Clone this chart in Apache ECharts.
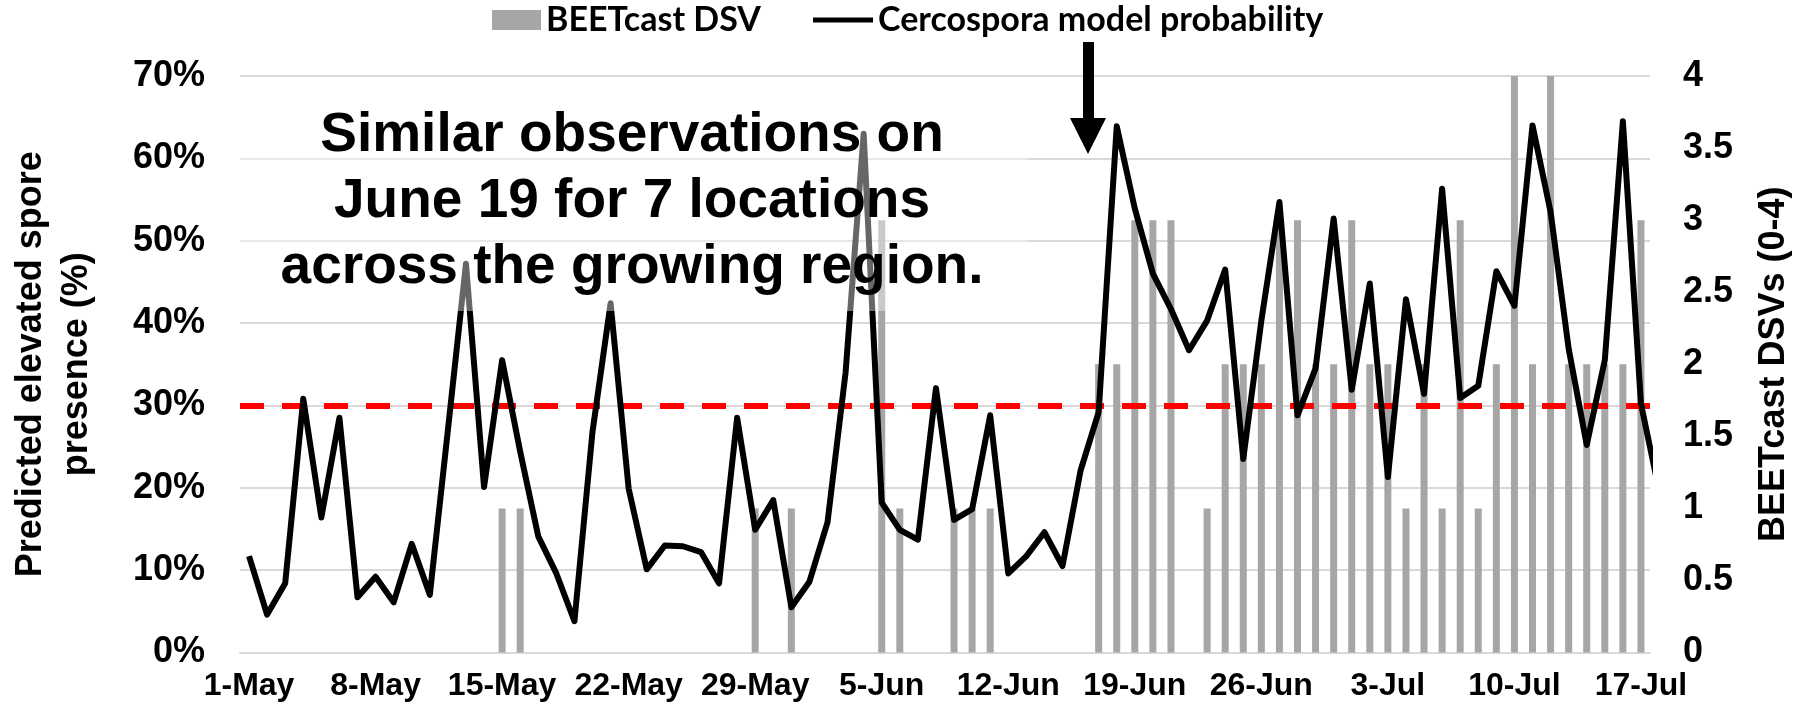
<!DOCTYPE html>
<html>
<head>
<meta charset="utf-8">
<script src="https://cdn.jsdelivr.net/npm/echarts@6/dist/echarts.min.js"></script>
<style>
  html, body { margin: 0; padding: 0; background: #fff; }
  #chart { width: 1806px; height: 710px; }
</style>
</head>
<body>
<div id="chart"></div>
<script>
// one category per day, 1-May .. 17-Jul
const months = [["May", 31], ["Jun", 30], ["Jul", 17]];
const days = [];
months.forEach(([m, n]) => {
  for (let d = 1; d <= n; d++) days.push(d + "-" + m);
});

// Cercospora model probability (%).
// last value is 18-Jul, only its first bit shows at the right edge
const probability = [
  11.7, 4.6, 8.4, 30.8, 16.4, 28.5, 6.7, 9.2, 6.1, 13.2,
  7.0, 27.0, 47.2, 20.1, 35.5, 24.4, 14.1, 9.6, 3.8, 26.8,
  42.4, 19.9, 10.1, 13.0, 12.9, 12.2, 8.4, 28.5, 14.9, 18.5,
  5.5, 8.6, 15.8, 34.0, 63.0, 18.2, 14.9, 13.7, 32.1, 16.1,
  17.4, 28.8, 9.6, 11.7, 14.6, 10.5, 22.1, 29.2, 63.9, 53.9,
  46.0, 41.7, 36.7, 40.3, 46.5, 23.5, 40.3, 54.7, 28.8, 34.5,
  52.7, 31.9, 44.8, 21.3, 42.9, 31.4, 56.3, 30.9, 32.4, 46.3,
  42.1, 64.0, 53.5, 36.9, 25.2, 35.5, 64.5, 30.2, 19.7
];

// BEETcast daily severity values (0-4)
const dsv = [
  0, 0, 0, 0, 0, 0, 0, 0, 0, 0,
  0, 0, 0, 0, 1, 1, 0, 0, 0, 0,
  0, 0, 0, 0, 0, 0, 0, 0, 1, 0,
  1, 0, 0, 0, 0, 3, 1, 0, 0, 1,
  1, 1, 0, 0, 0, 0, 0, 2, 2, 3,
  3, 3, 0, 1, 2, 2, 2, 3, 3, 2,
  2, 3, 2, 2, 1, 2, 1, 3, 1, 2,
  4, 2, 4, 2, 2, 2, 2, 3
];

const threshold = 30;
const note = "Similar observations on\nJune 19 for 7 locations\nacross the growing region.";

const axisFont = "Liberation Sans, Arial, sans-serif";
const legendFont = "Lato, sans-serif";
const gridGray = "#d9d9d9";

const chart = echarts.init(document.getElementById("chart"), null, { renderer: "canvas" });

const legendText = {
  fontFamily: legendFont,
  fontWeight: "bold",
  fontSize: 34,
  color: "#000",
};

chart.setOption({
  animation: false,
  grid: { left: 235, right: 156, top: 76, bottom: 57.5 },
  legend: [
    {
      data: ["BEETcast DSV"],
      left: 492,
      top: 3,
      padding: 0,
      icon: "rect",
      itemWidth: 49,
      itemHeight: 20,
      selectedMode: false,
      textStyle: legendText,
    },
    {
      data: ["Cercospora model probability"],
      left: 813,
      top: 3,
      padding: 0,
      icon: "rect",
      itemWidth: 60,
      itemHeight: 5,
      selectedMode: false,
      textStyle: legendText,
    },
  ],
  xAxis: [
    {
      type: "category",
      data: days,
      boundaryGap: true,
      axisLine: { lineStyle: { color: gridGray, width: 2 } },
      axisTick: { interval: 6, length: 10, lineStyle: { color: gridGray, width: 2 } },
      axisLabel: {
        interval: 6,
        margin: 18,
        color: "#000",
        fontFamily: axisFont,
        fontWeight: "bold",
        fontSize: 32,
      },
    },
    {
      // hidden helper axis so the line can run past the last day and get clipped
      type: "value",
      show: false,
      min: -0.5,
      max: days.length - 0.5,
    },
  ],
  yAxis: [
    {
      type: "value",
      min: 0,
      max: 70,
      interval: 10,
      position: "left",
      axisLine: { show: false },
      axisTick: { show: false },
      splitLine: { lineStyle: { color: gridGray, width: 2 } },
      axisLabel: {
        formatter: "{value}%",
        margin: 35,
        color: "#000",
        fontFamily: axisFont,
        fontWeight: "bold",
        fontSize: 36,
      },
      name: "Predicted elevated spore\npresence (%)",
      nameLocation: "middle",
      nameRotate: 90,
      nameGap: 140,
      nameTextStyle: {
        color: "#000",
        fontFamily: axisFont,
        fontWeight: "bold",
        fontSize: 36,
        lineHeight: 46,
      },
    },
    {
      type: "value",
      min: 0,
      max: 4,
      interval: 0.5,
      position: "right",
      axisLine: { show: false },
      axisTick: { show: false },
      splitLine: { show: false },
      axisLabel: {
        margin: 33,
        color: "#000",
        fontFamily: axisFont,
        fontWeight: "bold",
        fontSize: 36,
      },
      name: "BEETcast DSVs (0-4)",
      nameLocation: "middle",
      nameRotate: 90,
      nameGap: 106,
      nameTextStyle: {
        color: "#000",
        fontFamily: axisFont,
        fontWeight: "bold",
        fontSize: 36,
      },
    },
  ],
  series: [
    {
      name: "BEETcast DSV",
      type: "bar",
      xAxisIndex: 0,
      yAxisIndex: 1,
      data: dsv,
      barWidth: 7,
      itemStyle: { color: "#a6a6a6" },
      z: 2,
    },
    {
      name: "Cercospora model probability",
      type: "line",
      xAxisIndex: 1,
      yAxisIndex: 0,
      data: probability.map((v, i) => [i, v]),
      symbol: "none",
      clip: true,
      itemStyle: { color: "#000" },
      lineStyle: { color: "#000", width: 6, join: "round" },
      z: 10,
      markLine: {
        silent: true,
        symbol: "none",
        z: 5,
        label: { show: false },
        lineStyle: { color: "#ff0000", width: 6, type: [24, 18] },
        data: [{ yAxis: threshold }],
      },
    },
  ],
  graphic: [
    {
      // semi transparent text box behind the note
      type: "rect",
      silent: true,
      z: 50,
      shape: { x: 236, y: 95, width: 792, height: 216 },
      style: { fill: "rgba(255,255,255,0.4)" },
    },
    {
      type: "text",
      silent: true,
      z: 60,
      x: 632,
      y: 202,
      style: {
        text: note,
        fill: "#000",
        fontFamily: axisFont,
        fontWeight: "bold",
        fontSize: 55,
        lineHeight: 66,
        align: "center",
        verticalAlign: "middle",
      },
    },
    {
      // arrow pointing at June 19
      type: "polygon",
      silent: true,
      z: 60,
      shape: {
        points: [[1083, 42], [1094, 42], [1094, 118], [1106, 118], [1088, 154], [1070, 118], [1083, 118]],
      },
      style: { fill: "#000" },
    },
  ],
});
</script>
</body>
</html>
